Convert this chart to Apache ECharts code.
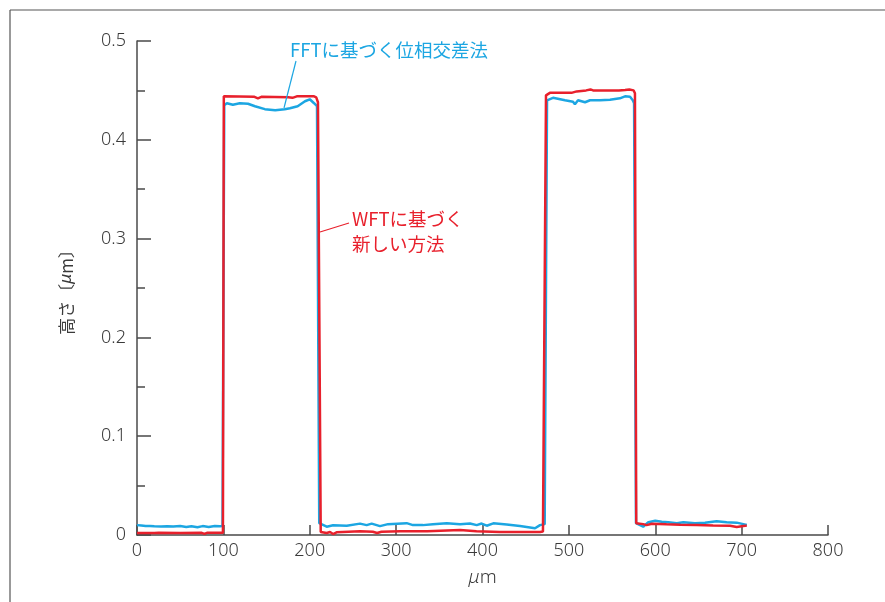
<!DOCTYPE html>
<html><head><meta charset="utf-8">
<script src="https://cdn.jsdelivr.net/npm/echarts@6/dist/echarts.min.js"></script>
<style>html,body{margin:0;padding:0;background:#fff}#c{width:885px;height:602px}</style>
</head><body><div id="c"></div>
<script>
// FFT (blue) series
const fftX = [0,5,10,15,20,28,35,42,50,57,63,70,76,83,90,96,99,
  101,104,111,119,128.5,136.6,148,160,171,177,186,194.5,200,205,208.4,
  211,213,219.6,227,242.8,258.2,265.9,271.7,281.3,290.6,312.2,319.5,331,342.7,358.6,374,385.5,393.3,399,404.9,412.5,428,443.4,460.8,466.6,472,
  474.7,481.6,495.5,504.8,507,510.6,518.7,524.5,536,547.6,559,565,570.8,574,575.5,
  577.7,586,592,600,607.5,615,625,632.5,646,657.6,671,682.7,694.3,702,706];
const fftY = [0.010,0.0095,0.009,0.0092,0.0088,0.0085,0.0088,0.0085,0.009,0.0082,0.0088,0.0078,0.009,0.0082,0.0092,0.0088,0.009,
  0.435,0.437,0.4355,0.437,0.4365,0.434,0.431,0.430,0.431,0.432,0.434,0.439,0.441,0.437,0.434,
  0.012,0.011,0.0084,0.0098,0.0094,0.0115,0.010,0.0115,0.009,0.011,0.012,0.010,0.010,0.011,0.012,0.011,0.0116,0.010,0.0116,0.0094,0.0118,0.0106,0.0091,0.0068,0.010,0.011,
  0.440,0.4425,0.440,0.4385,0.436,0.440,0.438,0.440,0.440,0.4405,0.442,0.444,0.4435,0.440,0.437,
  0.012,0.0084,0.013,0.0145,0.0135,0.013,0.0118,0.0128,0.0118,0.0124,0.014,0.013,0.0125,0.011,0.0101];
// WFT (red) series
const wftX = [0,20,22,25,50,75,78,81,99.5,
  100.5,136,140,144,175,180,185,205,207.5,209.5,
  212.7,219.6,223.5,227,231,238,258.2,273,278,283,305,336,374,393,420,466.6,470,
  473.5,475,478,503,509,520,525,528,558,565,570,575,576.5,
  578,586,590,596,613,628.7,648,667,686.6,694.3,702,706];
const wftY = [0.002,0.002,0.0012,0.0022,0.0021,0.0022,0.0012,0.0022,0.0022,
  0.444,0.4435,0.442,0.4435,0.443,0.4425,0.444,0.444,0.443,0.438,
  0.003,0.002,0.003,0.001,0.0027,0.003,0.0037,0.0033,0.002,0.0033,0.0037,0.0037,0.005,0.0037,0.003,0.003,0.0035,
  0.445,0.447,0.4475,0.4475,0.449,0.450,0.451,0.450,0.450,0.4505,0.451,0.450,0.447,
  0.012,0.011,0.010,0.0114,0.0108,0.0104,0.010,0.0096,0.0093,0.008,0.009,0.0095];
const xTicks = [0,100,200,300,400,500,600,700,800];
const yTicks = [0,0.1,0.2,0.3,0.4,0.5];
const labelFFT = 'FFTに基づく位相交差法';
const labelWFT = 'WFTに基づく\n新しい方法';
const xName = '{i|μ}m';
const yName = '高さ〔{i|μ}m〕';

const BLUE = '#1ca6e2', RED = '#e8202c', AX = '#4a4a4a';
const FONT = '"Noto Sans CJK JP","Noto Sans",sans-serif';
const LFONT = '"Noto Sans","Noto Sans CJK JP",sans-serif';
const chart = echarts.init(document.getElementById('c'), null, {renderer:'canvas'});
const zip = (a,b)=>a.map((v,i)=>[v,b[i]]);
chart.setOption({
  animation:false,
  textStyle:{fontFamily:FONT},
  grid:{left:137,right:57,top:41,bottom:67},
  xAxis:{type:'value',min:0,max:800,interval:100,
    name:xName,nameLocation:'middle',nameGap:33,
    nameTextStyle:{fontSize:19,color:'#3a3a3a',fontFamily:LFONT,fontWeight:300,
      rich:{i:{fontStyle:'italic',fontSize:19,color:'#3a3a3a',fontFamily:LFONT}}},
    axisLine:{lineStyle:{color:AX,width:1.5}},
    axisTick:{inside:true,length:10,lineStyle:{color:AX,width:1.5}},
    axisLabel:{fontSize:18,color:'#3a3a3a',fontFamily:LFONT,fontWeight:300,margin:7,formatter:v=>xTicks.includes(v)?String(v):''},
    splitLine:{show:false}},
  yAxis:{type:'value',min:0,max:0.5,interval:0.1,
    name:yName,nameLocation:'middle',nameGap:62,nameRotate:90,
    nameTextStyle:{fontSize:17,color:'#3a3a3a',fontFamily:FONT,
      rich:{i:{fontStyle:'italic',fontSize:17,color:'#3a3a3a',fontFamily:LFONT}}},
    axisLine:{show:true,lineStyle:{color:AX,width:1.5}},
    axisTick:{show:true,inside:true,length:14,lineStyle:{color:AX,width:1.5}},
    minorTick:{show:true,splitNumber:2,length:8,lineStyle:{color:AX,width:1.5}},
    axisLabel:{fontSize:18,color:'#3a3a3a',fontFamily:LFONT,fontWeight:300,margin:11,formatter:v=>{const t=yTicks.find(k=>Math.abs(k-v)<1e-9);return t===undefined?'':(t===0?'0':t.toFixed(1));}},
    splitLine:{show:false}},
  series:[
    {type:'line',data:zip(fftX,fftY),showSymbol:false,symbol:'none',lineStyle:{color:BLUE,width:2.5},itemStyle:{color:BLUE},z:2},
    {type:'line',data:zip(wftX,wftY),showSymbol:false,symbol:'none',lineStyle:{color:RED,width:2.5},itemStyle:{color:RED},z:3}
  ],
  graphic:[
    {type:'line',shape:{x1:10,y1:10,x2:885,y2:10},style:{stroke:'#555',lineWidth:1.2},silent:true},
    {type:'line',shape:{x1:10,y1:10,x2:10,y2:602},style:{stroke:'#555',lineWidth:1.2},silent:true},
    {type:'line',shape:{x1:296,y1:61,x2:284,y2:108},style:{stroke:BLUE,lineWidth:1.2},z:10},
    {type:'text',x:290,y:50,style:{text:labelFFT,fill:BLUE,font:'18.5px '+FONT,textVerticalAlign:'middle'},z:10},
    {type:'line',shape:{x1:349,y1:223,x2:320,y2:232},style:{stroke:RED,lineWidth:1.2},z:10},
    {type:'text',x:352,y:206,style:{text:labelWFT,fill:RED,font:'18.5px '+FONT,lineHeight:25},z:10}
  ]
});
</script></body></html>
